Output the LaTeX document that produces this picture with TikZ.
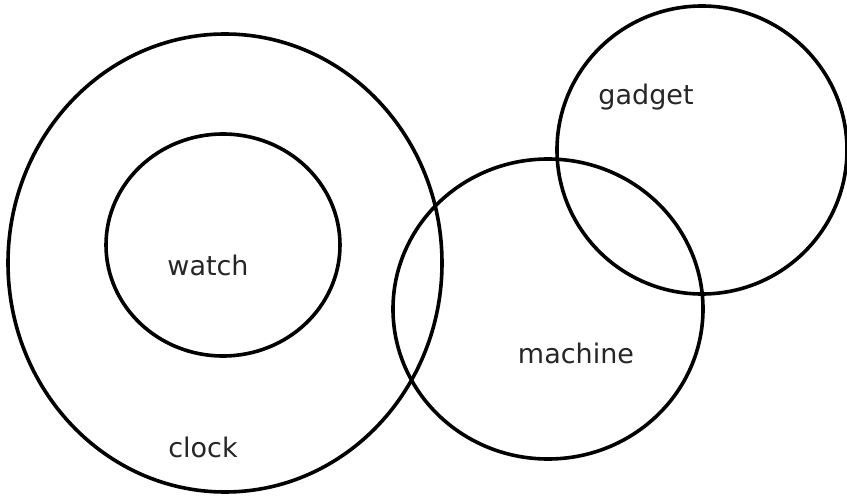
\documentclass[tikz,border=0pt]{standalone}
\usepackage{fontspec}
\setmainfont{DejaVu Sans}
\usetikzlibrary{shapes.geometric}
\definecolor{ink}{HTML}{000000}

\begin{document}
\begin{tikzpicture}[
  x=1pt, y=-1pt,
  set/.style={draw=ink, line width=3.6pt, ellipse, inner sep=0pt},
  lbl/.style={text=ink!85, font=\fontsize{27}{32}\selectfont},
]

\useasboundingbox[fill=white] (0,0) rectangle (847,500);

% the four sets
\node[set, minimum width=434pt, minimum height=458pt] (clock) at (225,263) {};
\node[set, minimum width=234pt, minimum height=222pt] (watch) at (223,245) {};
\node[set, minimum width=310pt, minimum height=300pt] (machine) at (548,309) {};
\node[set, minimum width=290pt, minimum height=288pt] (gadget) at (702,150) {};

% labels
\node[lbl] (watchlbl) at (208,265) {watch};
\node[lbl] (clocklbl) at (203,447) {clock};
\node[lbl] (machinelbl) at (576,353) {machine};
\node[lbl] (gadgetlbl) at (646,97) {gadget};

\end{tikzpicture}
\end{document}
